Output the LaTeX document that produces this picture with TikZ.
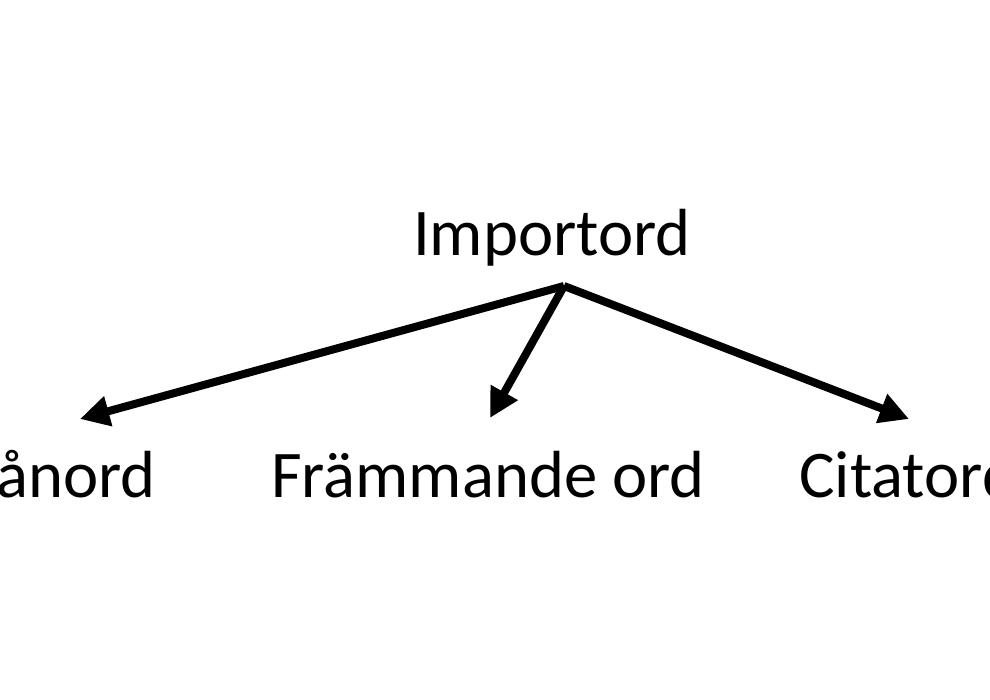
\documentclass[tikz,border=0pt]{standalone}
\usepackage{fontspec}
\setmainfont{Carlito}
\usetikzlibrary{arrows.meta}
\begin{document}
\begin{tikzpicture}[x=0.75pt,y=-0.75pt,
  word/.style={inner sep=0pt,font=\fontsize{50}{60}\selectfont},
  link/.style={line width=6pt,-{Triangle[length=22pt,width=22pt]}}]
\useasboundingbox (0,0) rectangle (990,700);
\clip (0,0) rectangle (990,700);
\fill[white] (0,0) rectangle (990,700);
\node[word,anchor=base] (imp) at (552,255) {Importord};
\node[word,anchor=base east] (lan) at (156,497) {Lånord};
\node[word,anchor=base] (fra) at (488,497) {Främmande ord};
\node[word,anchor=base west] (cit) at (799,497) {Citatord};
\coordinate (apex) at (564,286);
\coordinate (tl) at (80,419);
\coordinate (tm) at (490,418);
\coordinate (tr) at (909,419);
\draw[link] (apex) -- (tl);
\draw[link] (apex) -- (tm);
\draw[link] (apex) -- (tr);
\end{tikzpicture}
\end{document}
